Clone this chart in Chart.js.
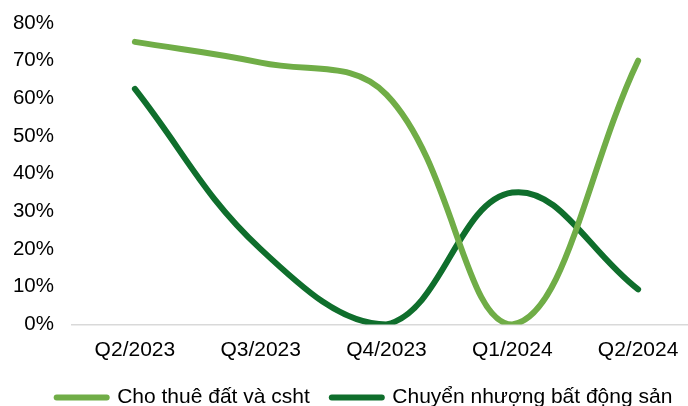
<!DOCTYPE html>
<html>
<head>
<meta charset="utf-8">
<script src="https://cdn.jsdelivr.net/npm/chart.js@4/dist/chart.umd.min.js"></script>
<style>
  html, body { margin: 0; padding: 0; background: #fff; overflow: hidden; width: 688px; height: 406px; }
  #wrap { width: 729px; height: 418px; }
</style>
</head>
<body>
<div id="wrap"><canvas id="c" width="729" height="418"></canvas></div>
<script>
const categories = ["Q2/2023", "Q3/2023", "Q4/2023", "Q1/2024", "Q2/2024"];
const seriesNames = ["Cho thuê đất và csht", "Chuyển nhượng bất động sản"];
const choThueValues = [75, 69.5, 61, 0, 70];
const chuyenNhuongValues = [62.5, 20, 0, 35, 9.3];
const yTicks = [0, 10, 20, 30, 40, 50, 60, 70, 80];
const colors = ["#70AD47", "#0F6E2C"];

const FONT = "'Liberation Sans', Arial, sans-serif";

new Chart(document.getElementById('c'), {
  type: 'line',
  data: {
    labels: categories,
    datasets: [
      { label: seriesNames[0], data: choThueValues, borderColor: colors[0], backgroundColor: colors[0],
        borderWidth: 6, pointRadius: 0, tension: 0.4, borderCapStyle: 'round', borderJoinStyle: 'round' },
      { label: seriesNames[1], data: chuyenNhuongValues, borderColor: colors[1], backgroundColor: colors[1],
        borderWidth: 6, pointRadius: 0, tension: 0.4, borderCapStyle: 'round', borderJoinStyle: 'round' }
    ]
  },
  options: {
    responsive: false,
    animation: false,
    layout: { padding: { top: 0, right: 28, left: 28, bottom: 0 } },
    plugins: {
      tooltip: { enabled: false },
      legend: {
        position: 'bottom',
        labels: {
          font: { family: FONT, size: 21 },
          color: '#000',
          usePointStyle: true,
          pointStyleWidth: 50,
          padding: 22,
          generateLabels: (chart) => chart.data.datasets.map((ds, i) => ({
            text: ds.label,
            datasetIndex: i,
            pointStyle: 'line',
            strokeStyle: ds.borderColor,
            fillStyle: ds.borderColor,
            lineWidth: 6,
            lineCap: 'round',
            hidden: false
          }))
        }
      }
    },
    scales: {
      x: {
        offset: true,
        afterFit: (s) => { s.height = 40.5; },
        grid: { display: false, drawTicks: false },
        border: { display: true, color: '#d9d9d9', width: 1.5 },
        ticks: { font: { family: FONT, size: 21 }, color: '#000', padding: 13, maxRotation: 0 }
      },
      y: {
        min: 0, max: 80,
        afterFit: (s) => { s.width = 44; s._computeLabelArea = () => undefined; },
        afterBuildTicks: (s) => { s.ticks = yTicks.map(v => ({ value: v })); },
        grid: { display: false, drawTicks: true, tickLength: 7.3 },
        border: { display: false },
        ticks: { font: { family: FONT, size: 20.5 }, color: '#000', padding: 10.7, callback: (v) => v + '%' }
      }
    }
  }
});
</script>
</body>
</html>
